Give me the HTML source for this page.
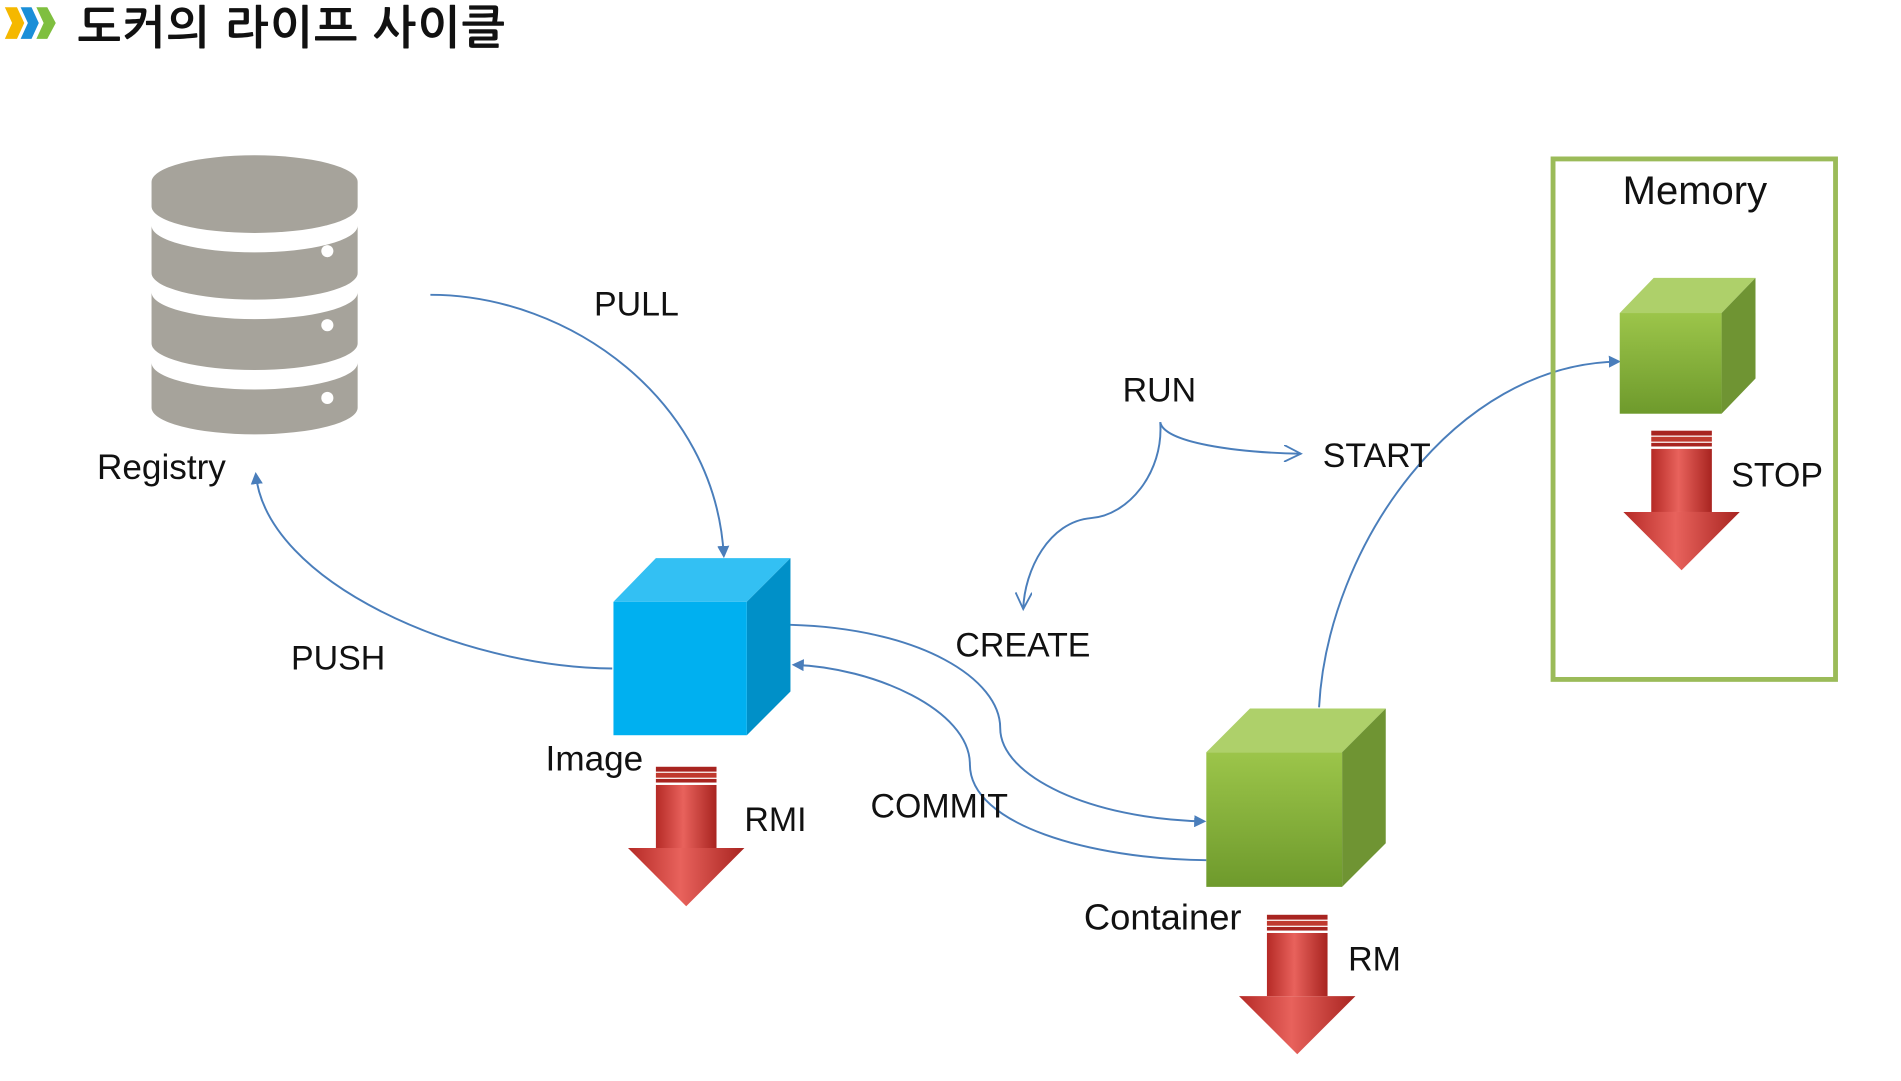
<!DOCTYPE html>
<html><head><meta charset="utf-8"><style>
html,body{margin:0;padding:0;background:#fff;overflow:hidden}
svg{display:block}
text{font-family:"Liberation Sans","NanumGothic",sans-serif;fill:#111}
</style></head><body>
<svg width="1901" height="1081" viewBox="0 0 1568 891" preserveAspectRatio="none" xmlns="http://www.w3.org/2000/svg">
<defs>
<marker id="a" markerWidth="10" markerHeight="10" refX="8" refY="5" orient="auto" markerUnits="userSpaceOnUse"><path d="M0,0 L10,5 L0,10 z" fill="#4a7ebb"/></marker>
<marker id="o" markerWidth="16" markerHeight="14" refX="14" refY="7" orient="auto" markerUnits="userSpaceOnUse"><path d="M0,0 L14,7 L0,14" fill="none" stroke="#4a7ebb" stroke-width="1.5"/></marker>
<linearGradient id="rg" x1="0" x2="1"><stop offset="0" stop-color="#b52a26"/><stop offset=".45" stop-color="#e8625c"/><stop offset="1" stop-color="#a82420"/></linearGradient>
<linearGradient id="gf" x1="0" y1="0" x2="0" y2="1"><stop offset="0" stop-color="#9cc54a"/><stop offset="1" stop-color="#6e9a2c"/></linearGradient>
<g id="red">
<rect x="0" y="0" width="50" height="4" fill="#a82420"/><rect x="0" y="5" width="50" height="4" fill="#c0392e"/><rect x="0" y="10" width="50" height="3" fill="#a82420"/>
<rect x="0" y="15" width="50" height="52" fill="url(#rg)"/>
<path d="M-23,67 L73,67 L25,115 z" fill="url(#rg)"/>
</g>
</defs>
<path d="M4,6 L14,6 L20,19 L14,32 L4,32 L10,19z" fill="#f5b800"/>
<path d="M17,6 L26,6 L32,19 L26,32 L17,32 L23,19z" fill="#1a8fd8"/>
<path d="M30,6 L39,6 L46,19 L39,32 L30,32 L36,19z" fill="#7fbf3f"/>
<text x="64" y="36" font-size="38" font-weight="bold" letter-spacing="1" style="font-family:'Liberation Sans','NanumGothic','Noto Sans CJK KR',sans-serif">도커의 라이프 사이클</text>
<g fill="#a6a39b">
<path d="M125,150 A85,22 0 0 1 295,150 L295,170 A85,22 0 0 1 125,170 z"/>
<path d="M125,186 A85,22 0 0 0 295,186 L295,225 A85,22 0 0 1 125,225 z"/>
<path d="M125,241 A85,22 0 0 0 295,241 L295,283 A85,22 0 0 1 125,283 z"/>
<path d="M125,299 A85,22 0 0 0 295,299 L295,336 A85,22 0 0 1 125,336 z"/>
</g>
<g fill="#fff"><circle cx="270" cy="207" r="5"/><circle cx="270" cy="268" r="5"/><circle cx="270" cy="328" r="5"/></g>
<text x="80" y="395" font-size="29">Registry</text>
<g fill="none" stroke="#4a7ebb" stroke-width="1.6">
<path d="M355,243 C470,243 590,330 597,458" marker-end="url(#a)"/>
<path d="M505,551 C380,550 220,480 211,391" marker-end="url(#a)"/>
<path d="M652,515 C760,518 825,560 825,600 C825,640 900,675 993,677" marker-end="url(#a)"/>
<path d="M995,709 C900,708 800,680 800,630 C800,585 720,550 655,548" marker-end="url(#a)"/>
<path d="M1088,583 C1095,450 1200,300 1335,298" marker-end="url(#a)"/>
<path d="M957,348 C960,365 1020,373 1073,374" marker-end="url(#o)"/>
<path d="M957,348 C960,390 930,425 900,427 C865,430 845,470 844,502" marker-end="url(#o)"/>
</g>
<text x="490" y="260" font-size="28">PULL</text>
<text x="240" y="552" font-size="28">PUSH</text>
<text x="926" y="331" font-size="28">RUN</text>
<text x="1091" y="385" font-size="28">START</text>
<text x="788" y="541" font-size="28">CREATE</text>
<text x="718" y="674" font-size="28">COMMIT</text>
<polygon points="506,496 541,460 652,460 616,496" fill="#33c0f3"/>
<polygon points="616,496 652,460 652,570 616,606" fill="#0090c8"/>
<rect x="506" y="496" width="110" height="110" fill="#00b0f0"/>
<text x="450" y="635" font-size="29">Image</text>
<use href="#red" x="541" y="632"/>
<text x="614" y="685" font-size="28">RMI</text>
<polygon points="995,620 1031,584 1143,584 1107,620" fill="#aed06a"/>
<polygon points="1107,620 1143,584 1143,695 1107,731" fill="#6f9433"/>
<rect x="995" y="620" width="112" height="111" fill="url(#gf)"/>
<text x="894" y="766" font-size="30">Container</text>
<use href="#red" x="1045" y="754"/>
<text x="1112" y="800" font-size="28">RM</text>
<rect x="1281" y="131" width="233" height="429" fill="none" stroke="#9bbb59" stroke-width="4"/>
<text x="1398" y="168" font-size="33" text-anchor="middle" fill="#222">Memory</text>
<polygon points="1336,258 1364,229 1448,229 1420,258" fill="#aed06a"/>
<polygon points="1420,258 1448,229 1448,312 1420,341" fill="#6f9433"/>
<rect x="1336" y="258" width="84" height="83" fill="url(#gf)"/>
<use href="#red" x="1362" y="355"/>
<text x="1428" y="401" font-size="28">STOP</text>
</svg>
</body></html>
